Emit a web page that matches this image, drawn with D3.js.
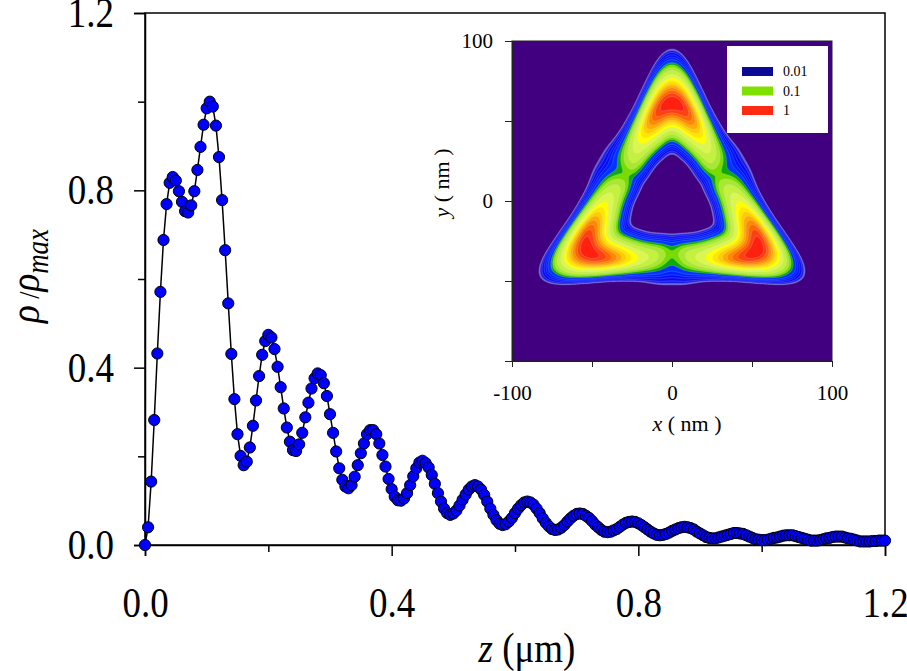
<!DOCTYPE html>
<html>
<head>
<meta charset="utf-8">
<script src="https://cdn.jsdelivr.net/npm/d3@7"></script>
<style>
    html, body { margin: 0; padding: 0; background: #fff; }
    svg { display: block; font-family: "Liberation Serif", "Times New Roman", serif; }
</style>
</head>
<body>
<svg id="chart" width="907" height="671"></svg>
<script>

// density along z, one point every 0.005 um
var zStep = 0.005;
var rho = [
    0.000, 0.040, 0.143, 0.282, 0.432, 0.571, 0.688, 0.769, 0.817, 0.830,
    0.822, 0.798, 0.774, 0.753, 0.750, 0.766, 0.798, 0.846, 0.898, 0.948,
    0.985, 1.000, 0.989, 0.946, 0.875, 0.778, 0.665, 0.545, 0.431, 0.329,
    0.250, 0.201, 0.180, 0.188, 0.220, 0.269, 0.326, 0.381, 0.429, 0.460,
    0.474, 0.468, 0.442, 0.402, 0.356, 0.308, 0.265, 0.233, 0.214, 0.212,
    0.227, 0.253, 0.288, 0.321, 0.353, 0.376, 0.387, 0.383, 0.365, 0.336,
    0.295, 0.253, 0.211, 0.173, 0.147, 0.132, 0.128, 0.135, 0.154, 0.180,
    0.207, 0.229, 0.250, 0.259, 0.259, 0.250, 0.229, 0.203, 0.177, 0.149,
    0.126, 0.109, 0.101, 0.100, 0.105, 0.117, 0.135, 0.155, 0.173, 0.186,
    0.190, 0.185, 0.175, 0.158, 0.138, 0.117, 0.098, 0.082, 0.072, 0.068,
    0.071, 0.078, 0.089, 0.102, 0.114, 0.125, 0.132, 0.135, 0.132, 0.125,
    0.113, 0.098, 0.082, 0.068, 0.056, 0.048, 0.045, 0.047, 0.053, 0.061,
    0.072, 0.082, 0.090, 0.096, 0.098, 0.096, 0.091, 0.082, 0.072, 0.060,
    0.050, 0.042, 0.036, 0.034, 0.035, 0.039, 0.045, 0.053, 0.060, 0.066,
    0.070, 0.071, 0.070, 0.066, 0.061, 0.054, 0.046, 0.040, 0.034, 0.030,
    0.029, 0.030, 0.033, 0.036, 0.041, 0.046, 0.050, 0.052, 0.053, 0.052,
    0.049, 0.045, 0.040, 0.035, 0.030, 0.026, 0.023, 0.022, 0.023, 0.025,
    0.028, 0.032, 0.035, 0.038, 0.040, 0.041, 0.040, 0.038, 0.035, 0.030,
    0.026, 0.022, 0.018, 0.016, 0.015, 0.015, 0.017, 0.019, 0.021, 0.023,
    0.025, 0.027, 0.027, 0.026, 0.025, 0.022, 0.019, 0.016, 0.013, 0.012,
    0.011, 0.011, 0.012, 0.014, 0.016, 0.017, 0.019, 0.021, 0.022, 0.022,
    0.022, 0.020, 0.018, 0.016, 0.014, 0.012, 0.010, 0.010, 0.010, 0.011,
    0.013, 0.015, 0.016, 0.018, 0.019, 0.019, 0.019, 0.017, 0.015, 0.014,
    0.012, 0.010, 0.008, 0.008, 0.008, 0.008, 0.009, 0.009, 0.010, 0.010,
    0.010
];

var xTicks = [0, 0.4, 0.8, 1.2];
var xMinor = [0.2, 0.6, 1.0];
var yTicks = [0, 0.4, 0.8, 1.2];
var yMinor = [0.2, 0.6, 1.0];

// inset axes
var insetTicks = [-100, -50, 0, 50, 100];
var insetXLabels = [-100, 0, 100];
var insetYLabels = [0, 100];

// inset ring: profile vs angle away from the nearest lobe (deg), radii in nm
var lobeAngles = [90, 210, 330];
var ringOffset = [0, 10, 20, 30, 40, 50, 60];
var ringRadius = [63.5, 56, 48, 42, 37.5, 34.5, 32];
var ringAmp = [1.06, 0.92, 0.56, 0.34, 0.24, 0.15, 0.085];
var ringWidthOut = [12.8, 8.0, 6.0, 5.8, 6.3, 7.8, 9.7];
var ringWidthIn = [10.9, 9.7, 8.2, 7.3, 6.5, 6.0, 5.5];

var levels = [0.01, 0.0125, 0.018, 0.026, 0.036, 0.05, 0.075, 0.1, 0.13, 0.18,
    0.26, 0.36, 0.45, 0.53, 0.61, 0.69, 0.77, 0.85, 0.93];
var levelColors = ["#5c5cd4", "#1e1ee0", "#0a0af0", "#0010ff", "#0020ff", "#0034ff",
    "#10a810", "#78dc00", "#a8e830", "#c4f040", "#dcf650", "#ffff00", "#ffe600",
    "#ffcc00", "#ffaa00", "#ff8800", "#ff6600", "#ff4010", "#ff2010"];

var legendLabels = ["0.01", "0.1", "1"];
var legendColors = ["#0a0a96", "#80e000", "#ff2a12"];


var svg = d3.select("#chart");
var stretch = "scale(1,1.15)";

// ---------- main plot ----------
var x = d3.scaleLinear().domain([0, 1.2]).range([145, 885]);
var y = d3.scaleLinear().domain([0, 1.2]).range([545, 13]);

var pts = rho.map(function (v, i) { return {z: i * zStep, v: v}; });

svg.append("rect")
    .attr("x", x(0)).attr("y", y(1.2))
    .attr("width", x(1.2) - x(0)).attr("height", y(0) - y(1.2))
    .attr("fill", "none").attr("stroke", "#000").attr("stroke-width", 1.5);

var xAxis = svg.append("g").attr("transform", "translate(0," + y(0) + ")")
    .call(d3.axisBottom(x).tickValues(xTicks).tickSize(11).tickPadding(25).tickFormat(d3.format(".1f")));
var xAxisMinor = svg.append("g").attr("transform", "translate(0," + y(0) + ")")
    .call(d3.axisBottom(x).tickValues(xMinor).tickSize(7).tickFormat(""));
var yAxis = svg.append("g").attr("transform", "translate(" + x(0) + ",0)")
    .call(d3.axisLeft(y).tickValues(yTicks).tickSize(11).tickPadding(20).tickFormat(d3.format(".1f")));
var yAxisMinor = svg.append("g").attr("transform", "translate(" + x(0) + ",0)")
    .call(d3.axisLeft(y).tickValues(yMinor).tickSize(7).tickFormat(""));

[xAxis, xAxisMinor, yAxis, yAxisMinor].forEach(function (g) {
    g.select(".domain").attr("stroke", "#000").attr("stroke-width", 1.5);
    g.selectAll(".tick line").attr("stroke", "#000").attr("stroke-width", 1.5);
    g.selectAll(".tick text").attr("fill", "#000").attr("transform", stretch)
        .style("font-size", "37px")
        .style("font-family", "'Liberation Serif', 'Times New Roman', serif");
});
xAxisMinor.select(".domain").remove();
yAxisMinor.select(".domain").remove();

var line = d3.line()
    .x(function (d) { return x(d.z); })
    .y(function (d) { return y(d.v); });

svg.append("path")
    .datum(pts)
    .attr("d", line)
    .attr("fill", "none")
    .attr("stroke", "#000")
    .attr("stroke-width", 1.5);

svg.append("g").selectAll("circle")
    .data(pts)
    .enter().append("circle")
    .attr("cx", function (d) { return x(d.z); })
    .attr("cy", function (d) { return y(d.v); })
    .attr("r", 5.6)
    .attr("fill", "#0000ff")
    .attr("stroke", "#000")
    .attr("stroke-width", 1);

// axis titles
var xt = svg.append("text")
    .attr("transform", "translate(527,662) " + stretch)
    .attr("text-anchor", "middle")
    .style("font-size", "37px");
xt.append("tspan").style("font-style", "italic").text("z");
xt.append("tspan").text(" (\u03bcm)");

var yt = svg.append("text")
    .attr("transform", "translate(39,276) rotate(-90) " + stretch)
    .attr("text-anchor", "middle")
    .style("font-size", "37px");
yt.append("tspan").style("font-style", "italic").text("\u03c1");
yt.append("tspan").style("font-size", "26px").text(" /");
yt.append("tspan").style("font-style", "italic").text("\u03c1");
yt.append("tspan").style("font-style", "italic").style("font-size", "27px").attr("dy", "0.3em").text("max");

// ---------- inset ----------
var ix = d3.scaleLinear().domain([-100, 100]).range([512, 832]);
var iy = d3.scaleLinear().domain([-100, 100]).range([361, 41]);

// profiles are mirrored around each lobe and around each mid-side so they stay smooth
var wrap = function (a) {
    var back = a.slice(0, -1).reverse();
    return a.slice(1).reverse().concat(a, back);
};
var radiusAt = d3.interpolateBasis(wrap(ringRadius));
var ampAt = d3.interpolateBasis(wrap(ringAmp));
var wOutAt = d3.interpolateBasis(wrap(ringWidthOut));
var wInAt = d3.interpolateBasis(wrap(ringWidthIn));

function density(px, py) {
    var r = Math.sqrt(px * px + py * py);
    var th = Math.atan2(py, px) * 180 / Math.PI;
    var off = d3.min(lobeAngles, function (a) {
        return Math.abs((((th - a) % 360) + 540) % 360 - 180);
    });
    var t = (off + 60) / 180;
    var R = radiusAt(t);
    var w = r > R ? wOutAt(t) : wInAt(t);
    var d = r - R;
    return ampAt(t) * Math.exp(-d * d / (2 * w * w));
}

var step = 0.5, n = Math.round(200 / step) + 1;
var grid = new Array(n * n);
for (var j = 0; j < n; j++) {
    for (var i = 0; i < n; i++) {
        grid[j * n + i] = density(-100 + i * step, 100 - j * step);
    }
}
var gmax = d3.max(grid);
grid = grid.map(function (v) { return v / gmax; });

var contours = d3.contours().size([n, n]).thresholds(levels)(grid);

var proj = d3.geoTransform({
    point: function (cx, cy) {
        this.stream.point(ix(-100 + (cx - 0.5) * step), iy(100 - (cy - 0.5) * step));
    }
});
var geo = d3.geoPath(proj);

var inset = svg.append("g");
inset.append("clipPath").attr("id", "insetClip")
    .append("rect").attr("x", ix(-100)).attr("y", iy(100))
    .attr("width", ix(100) - ix(-100)).attr("height", iy(-100) - iy(100));

var map = inset.append("g").attr("clip-path", "url(#insetClip)");
map.append("rect")
    .attr("x", ix(-100)).attr("y", iy(100))
    .attr("width", ix(100) - ix(-100)).attr("height", iy(-100) - iy(100))
    .attr("fill", "#40007f");

map.selectAll("path.band")
    .data(contours)
    .enter().append("path")
    .attr("class", "band")
    .attr("d", geo)
    .attr("fill", function (d, k) { return levelColors[k]; })
    .attr("stroke", "rgba(210,220,255,0.4)")
    .attr("stroke-width", 0.5);

inset.append("rect")
    .attr("x", ix(-100)).attr("y", iy(100))
    .attr("width", ix(100) - ix(-100)).attr("height", iy(-100) - iy(100))
    .attr("fill", "none").attr("stroke", "#222").attr("stroke-width", 1);

var ixAxis = inset.append("g").attr("transform", "translate(0," + iy(-100) + ")")
    .call(d3.axisBottom(ix).tickValues(insetTicks).tickSize(6).tickPadding(18)
        .tickFormat(function (d) { return insetXLabels.indexOf(d) >= 0 ? d : ""; }));
var iyAxis = inset.append("g").attr("transform", "translate(" + ix(-100) + ",0)")
    .call(d3.axisLeft(iy).tickValues(insetTicks).tickSize(7).tickPadding(12)
        .tickFormat(function (d) { return insetYLabels.indexOf(d) >= 0 ? d : ""; }));
[ixAxis, iyAxis].forEach(function (g) {
    g.select(".domain").attr("stroke", "#222").attr("stroke-width", 1);
    g.selectAll(".tick line").attr("stroke", "#222").attr("stroke-width", 1);
    g.selectAll(".tick text").attr("fill", "#000").style("font-size", "21px")
        .style("font-family", "'Liberation Serif', 'Times New Roman', serif");
});

var ixt = inset.append("text")
    .attr("x", 687).attr("y", 431)
    .attr("text-anchor", "middle")
    .style("font-size", "22px");
ixt.append("tspan").style("font-style", "italic").text("x");
ixt.append("tspan").text(" ( nm )");

var iyt = inset.append("text")
    .attr("transform", "translate(449,183) rotate(-90)")
    .attr("text-anchor", "middle")
    .style("font-size", "22px");
iyt.append("tspan").style("font-style", "italic").text("y");
iyt.append("tspan").text(" ( nm )");

// legend
var leg = inset.append("g");
leg.append("rect")
    .attr("x", 727).attr("y", 46).attr("width", 101).attr("height", 87)
    .attr("fill", "#fff");
var item = leg.selectAll("g.item")
    .data(legendLabels)
    .enter().append("g")
    .attr("class", "item")
    .attr("transform", function (d, k) { return "translate(742," + (67 + k * 19.5) + ")"; });
item.append("rect")
    .attr("width", 31).attr("height", 9)
    .attr("fill", function (d, k) { return legendColors[k]; });
item.append("text")
    .attr("x", 41).attr("y", 4.5).attr("dy", "0.35em")
    .style("font-size", "14px")
    .text(function (d) { return d; });

</script>
</body>
</html>
